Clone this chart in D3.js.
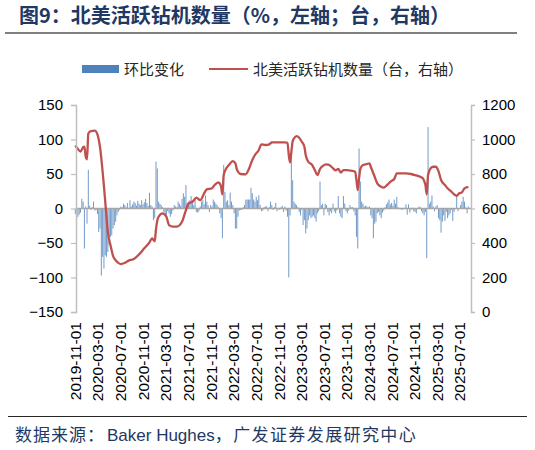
<!DOCTYPE html>
<html>
<head>
<meta charset="utf-8">
<script src="https://cdn.jsdelivr.net/npm/d3@7"></script>
<style>
  body { margin: 0; background: #fff; }
  svg { display: block; }
</style>
</head>
<body>
<div id="chart"></div>
<script>
const width = 535;
const height = 450;

// weekly data, first week = 2019-11-01
const startDate = "2019-11-01";

// 环比变化 (%), one value per week
const chgValues = [
  -8, -17, -12, -9, -6, 14, 10, -58, 3, -22,
  56, 4, -2, 2, 10, -3, -2, -8, -34, -29,
  -97, -70, -87, -68, -70, -63, -53, -41, -39, -29,
  -24, -19, -10, -5, -2, 3, 2, 7, 5, 2,
  8, 1, 12, 3, 6, 10, 8, 4, 11, 7,
  5, 12, 6, 9, 14, 8, 4, 23, 5, 3,
  -17, -14, 68, 58, 10, 7, 5, 2, -5, -10,
  -10, -4, -7, -12, -8, -3, 5, 3, 2, 10,
  7, 4, 14, 22, 17, 34, 8, 10, 12, 18,
  10, 5, 14, -5, -6, -4, 3, 10, 12, 6,
  19, 10, 5, -5, 5, 3, 13, 10, 7, 5,
  2, -7, -14, -43, 63, 24, 10, 12, 5, 23,
  10, 5, -7, -29, -29, -12, -3, -2, -2, 2,
  5, 13, 13, 13, 13, 30, 22, 13, 10, 17,
  12, 19, 5, -4, -3, 2, 3, 3, -4, 2,
  10, 5, -2, 2, 8, -4, 1, -2, 2, 4,
  -5, 3, -3, -12, -100, -10, 75, 41, 10, 7,
  5, 2, -5, -10, -2, -24, -17, -36, -29, -17,
  -10, -14, -12, -10, -14, -19, -7, -4, 39, 5,
  7, -10, 7, 5, -5, -10, -4, -7, 7, -4,
  -7, -3, 18, -7, -12, -14, 18, 7, -4, -7,
  -3, 5, 2, 2, -4, -10, -41, -58, 87, 39,
  10, 7, 3, 4, 3, 2, 3, -10, -14, -43,
  -22, -19, -7, -5, -10, -14, -6, -3, 2, 6,
  9, 13, 6, 8, 4, 13, 7, 17, 2, -1,
  -1, -2, -1, 1, 6, -9, 6, -6, -2, 1,
  -4, -5, -7, -1, 3, 2, -4, -7, -10, -5,
  -72, 118, 7, 10, 19, 3, -4, 3, 5, -14,
  -17, -35, -19, -10, -18, -5, -14, -10, -7, -2,
  -18, -5, -1, 18, -4, 0, 5, 10, 17, 10,
  2, -7, 3
];

// 北美活跃钻机数量 (台), read at these week numbers
const rigWeeks = [
  0, 2, 4, 6, 7, 8, 9, 10, 12, 15,
  17, 18, 19, 20, 21, 22, 23, 24, 25, 26,
  27, 28, 29, 31, 33, 35, 38, 41, 45, 49,
  53, 57, 59, 60, 61, 62, 63, 64, 67, 70,
  72, 75, 78, 82, 85, 87, 90, 93, 96, 99,
  101, 105, 107, 110, 111, 112, 113, 114, 116, 118,
  121, 123, 124, 125, 127, 131, 133, 136, 138, 141,
  143, 146, 149, 151, 157, 161, 163, 164, 165, 166,
  167, 168, 170, 172, 174, 176, 177, 179, 182, 184,
  186, 188, 190, 193, 195, 198, 200, 202, 204, 206,
  209, 212, 215, 216, 217, 218, 219, 221, 224, 226,
  227, 230, 232, 235, 237, 240, 242, 245, 247, 250,
  254, 258, 261, 265, 267, 268, 269, 270, 271, 273,
  275, 277, 279, 281, 284, 286, 289, 291, 293, 295,
  297, 299, 301, 302
];
const rigCounts = [
  965, 945, 930, 955, 958, 900, 885, 1035, 1049, 1052,
  1030, 1000, 955, 890, 813, 730, 640, 550, 466, 420,
  388, 355, 325, 300, 285, 278, 285, 298, 307, 334,
  369, 404, 427, 418, 410, 480, 530, 552, 572, 552,
  504, 495, 495, 523, 591, 630, 639, 663, 649, 688,
  711, 717, 736, 752, 745, 726, 682, 794, 833, 852,
  875, 862, 830, 813, 800, 798, 823, 881, 910, 939,
  972, 968, 972, 983, 983, 983, 981, 910, 867, 929,
  990, 1006, 1020, 1010, 987, 958, 910, 871, 852, 823,
  794, 829, 846, 856, 852, 833, 821, 829, 808, 823,
  823, 819, 813, 765, 707, 775, 830, 852, 858, 862,
  842, 784, 746, 726, 721, 740, 755, 771, 804, 804,
  804, 800, 794, 784, 775, 760, 736, 682, 794, 833,
  842, 842, 817, 765, 736, 717, 697, 682, 674, 688,
  694, 717, 724, 721
];

const tickLabels = [
  "2019-11-01", "2020-03-01", "2020-07-01", "2020-11-01", "2021-03-01",
  "2021-07-01", "2021-11-01", "2022-03-01", "2022-07-01", "2022-11-01",
  "2023-03-01", "2023-07-01", "2023-11-01", "2024-03-01", "2024-07-01",
  "2024-11-01", "2025-03-01", "2025-07-01"
];
const leftTicks = [-150, -100, -50, 0, 50, 100, 150];
const rightTicks = [0, 200, 400, 600, 800, 1000, 1200];

const parse = d3.timeParse("%Y-%m-%d");
const t0 = parse(startDate);
const weekDate = i => d3.timeDay.offset(t0, i * 7);

const bars = chgValues.map((v, i) => ({ date: weekDate(i), value: v }));
const rig = rigWeeks.map((w, i) => ({ date: weekDate(w), value: rigCounts[i] }));

const plot = { left: 76, right: 471, top: 105, bottom: 312 };

const x = d3.scaleTime()
    .domain([parse("2019-11-01"), parse("2025-08-29")])
    .range([75.3, plot.right]);
const yL = d3.scaleLinear().domain([-150, 150]).range([plot.bottom, plot.top]);
const yR = d3.scaleLinear().domain([0, 1200]).range([plot.bottom, plot.top]);

const svg = d3.select("#chart")
    .append("svg")
    .attr("width", width)
    .attr("height", height);

const cjk = "'Liberation Sans', 'Noto Sans CJK SC', sans-serif";
const navy = "#1f3864";

// title
svg.append("text")
    .attr("x", 19)
    .attr("y", 23)
    .attr("font-family", "'Noto Sans CJK SC', sans-serif")
    .attr("font-weight", "bold")
    .attr("font-size", 20)
    .attr("fill", navy)
    .text("图9：北美活跃钻机数量（%，左轴；台，右轴）");

svg.append("line")
    .attr("x1", 5).attr("x2", 517)
    .attr("y1", 33).attr("y2", 33)
    .attr("stroke", "#808080")
    .attr("stroke-width", 2);

// legend
const legend = svg.append("g")
    .attr("font-family", "'Noto Sans CJK SC', sans-serif")
    .attr("font-size", 15)
    .attr("fill", "#262626");
legend.append("rect")
    .attr("x", 82).attr("y", 65)
    .attr("width", 37).attr("height", 8)
    .attr("fill", "#4f81bd");
legend.append("text").attr("x", 124).attr("y", 75).text("环比变化");
legend.append("line")
    .attr("x1", 209).attr("x2", 248)
    .attr("y1", 69).attr("y2", 69)
    .attr("stroke", "#c0504d").attr("stroke-width", 2);
legend.append("text").attr("x", 253).attr("y", 75).text("北美活跃钻机数量（台，右轴）");

// bars
svg.append("g")
    .selectAll("rect")
    .data(bars)
    .join("rect")
    .attr("x", d => x(d.date) - 0.5)
    .attr("width", 1)
    .attr("y", d => yL(Math.max(0, d.value)))
    .attr("height", d => Math.abs(yL(d.value) - yL(0)))
    .attr("fill", "#4f81bd")
    .attr("opacity", 0.8);

// zero line
svg.append("line")
    .attr("x1", plot.left).attr("x2", plot.right)
    .attr("y1", yL(0)).attr("y2", yL(0))
    .attr("stroke", "#a6a6a6")
    .attr("stroke-width", 1.5);

// rig count line
svg.append("path")
    .datum(rig)
    .attr("fill", "none")
    .attr("stroke", "#c0504d")
    .attr("stroke-width", 2.3)
    .attr("stroke-linejoin", "round")
    .attr("d", d3.line()
        .x(d => x(d.date))
        .y(d => yR(d.value))
        .curve(d3.curveMonotoneX));

// axes
const axisL = svg.append("g")
    .attr("transform", `translate(${plot.left},0)`)
    .call(d3.axisLeft(yL).tickValues(leftTicks).tickSize(5).tickPadding(8));
const axisR = svg.append("g")
    .attr("transform", `translate(${plot.right},0)`)
    .call(d3.axisRight(yR).tickValues(rightTicks).tickFormat(d3.format("d"))
        .tickSize(4).tickPadding(7));

[axisL, axisR].forEach(g => {
    g.select(".domain").attr("stroke", "#bfbfbf").attr("stroke-width", 1.5);
    g.selectAll(".tick line").attr("stroke", "#bfbfbf").attr("stroke-width", 1.2);
    g.selectAll("text")
        .attr("font-family", "'Liberation Sans', Arial, sans-serif")
        .attr("font-size", 15)
        .attr("fill", "#000");
});

// x tick labels (rotated)
svg.append("g")
    .selectAll("text")
    .data(tickLabels)
    .join("text")
    .attr("transform", d => `translate(${x(parse(d))},322) rotate(-90)`)
    .attr("dy", "0.35em")
    .attr("text-anchor", "end")
    .attr("font-family", "'Liberation Sans', Arial, sans-serif")
    .attr("font-size", 15.5)
    .attr("fill", "#000")
    .text(d => d);

// footer
svg.append("line")
    .attr("x1", 8).attr("x2", 527)
    .attr("y1", 416.5).attr("y2", 416.5)
    .attr("stroke", "#262626")
    .attr("stroke-width", 1);

const foot = svg.append("text")
    .attr("x", 15)
    .attr("y", 441)
    .attr("font-family", cjk)
    .attr("font-size", 17)
    .attr("fill", navy);
foot.append("tspan").attr("letter-spacing", 1).text("数据来源：");
foot.append("tspan").attr("dx", 2).text("Baker Hughes");
foot.append("tspan").attr("letter-spacing", 1.4).text("，广发证券发展研究中心");
</script>
</body>
</html>
